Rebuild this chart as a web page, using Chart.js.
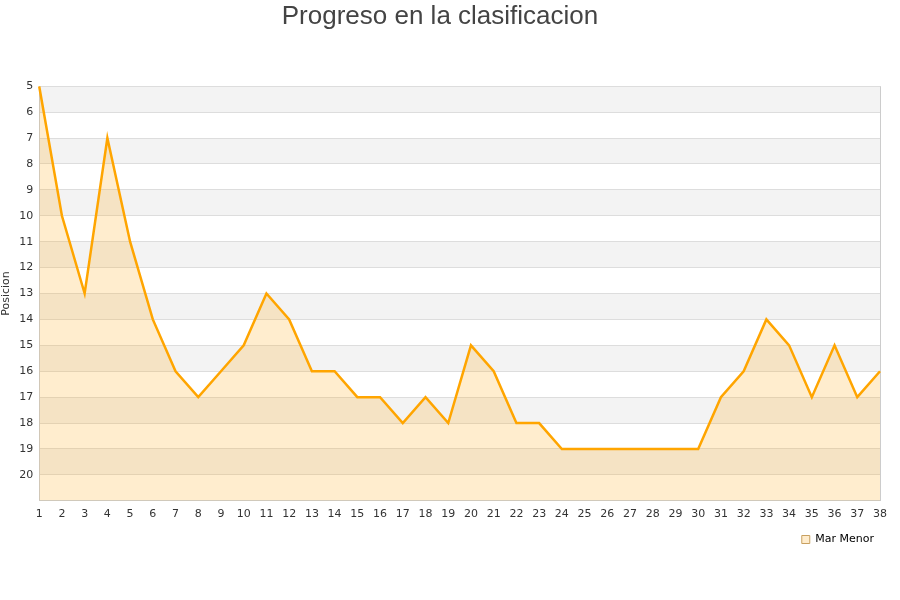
<!DOCTYPE html>
<html>
<head>
<meta charset="utf-8">
<script src="https://cdn.jsdelivr.net/npm/chart.js@4/dist/chart.umd.min.js"></script>
<style>
  body { margin: 0; background: #fff; }
  #wrap { width: 900px; height: 600px; }
</style>
</head>
<body>
<div id="wrap"><canvas id="chart"></canvas></div>
<script>
// Jornadas y posiciones
const jornadas = [];
for (let j = 1; j <= 38; j++) jornadas.push(String(j));
const posiciones = [5, 10, 13, 7, 11, 14, 16, 17, 16, 15, 13, 14, 16, 16, 17, 17, 18, 17, 18, 15,
                    16, 18, 18, 19, 19, 19, 19, 19, 19, 19, 17, 16, 14, 15, 17, 15, 17, 16];
const yMin = 5;
const yMax = 21;

// alternate gray / white bands behind the plot, plus right border
const bandPlugin = {
    id: 'bands',
    beforeDraw(chart) {
        const { ctx, chartArea, scales } = chart;
        ctx.save();
        for (let v = yMin; v < yMax; v += 2) {
            const y1 = scales.y.getPixelForValue(v);
            const y2 = scales.y.getPixelForValue(v + 1);
            ctx.fillStyle = '#f3f3f3';
            ctx.fillRect(chartArea.left, y1, chartArea.right - chartArea.left, y2 - y1);
        }
        ctx.strokeStyle = '#ccc';
        ctx.lineWidth = 1;
        ctx.beginPath();
        ctx.moveTo(Math.round(chartArea.right) + 0.5, chartArea.top);
        ctx.lineTo(Math.round(chartArea.right) + 0.5, chartArea.bottom);
        ctx.stroke();
        ctx.restore();
    }
};

new Chart(document.getElementById('chart'), {
    type: 'line',
    data: {
        labels: jornadas,
        datasets: [{
            label: 'Mar Menor',
            data: posiciones,
            borderColor: '#ffa500',
            backgroundColor: 'rgba(255, 175, 30, 0.22)',
            borderWidth: 2.5,
            pointRadius: 0,
            tension: 0,
            fill: 'start'
        }]
    },
    options: {
        responsive: true,
        maintainAspectRatio: false,
        animation: false,
        layout: { padding: { left: 0, right: 20, top: 0, bottom: 45 } },
        plugins: {
            title: {
                display: true,
                text: 'Progreso en la clasificacion',
                color: '#444',
                font: { family: 'Liberation Sans', size: 26, weight: 'normal' },
                padding: { top: 1, bottom: 54 }
            },
            legend: {
                position: 'bottom',
                align: 'end',
                labels: {
                    boxWidth: 8,
                    boxHeight: 8,
                    color: '#222',
                    font: { family: 'DejaVu Sans', size: 11 },
                    padding: 6,
                    generateLabels(chart) {
                        return [{
                            text: 'Mar Menor',
                            fillStyle: '#ffeccc',
                            strokeStyle: '#c8a060',
                            lineWidth: 1,
                            datasetIndex: 0
                        }];
                    }
                }
            }
        },
        scales: {
            x: {
                offset: false,
                grid: { display: false, drawTicks: false },
                border: { color: '#ccc' },
                ticks: {
                    color: '#333',
                    font: { family: 'DejaVu Sans', size: 11 },
                    maxRotation: 0,
                    autoSkip: false,
                    padding: 7
                }
            },
            y: {
                reverse: true,
                min: yMin,
                max: yMax,
                title: {
                    display: true,
                    text: 'Posicion',
                    color: '#333',
                    font: { family: 'DejaVu Sans', size: 11 },
                    padding: 0
                },
                grid: { color: '#dddddd', drawTicks: false },
                border: { color: '#ccc' },
                ticks: {
                    stepSize: 1,
                    color: '#333',
                    font: { family: 'DejaVu Sans', size: 11 },
                    padding: 6,
                    callback: v => (v === yMax ? '' : v)
                }
            }
        }
    },
    plugins: [bandPlugin]
});
</script>
</body>
</html>
